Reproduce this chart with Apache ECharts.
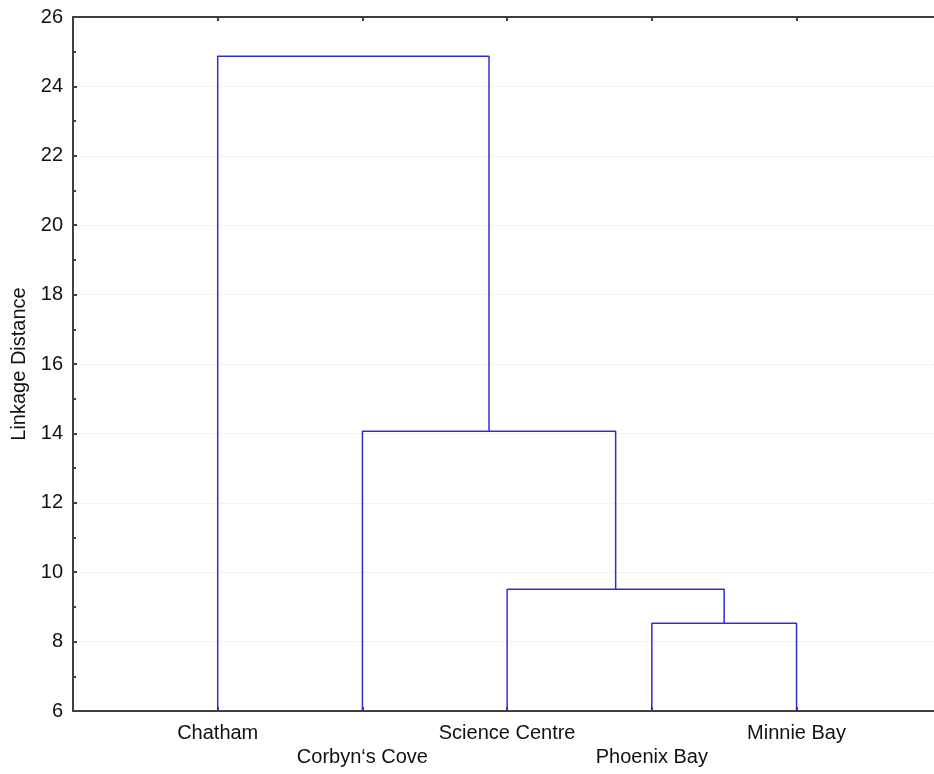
<!DOCTYPE html>
<html>
<head>
<meta charset="utf-8">
<script src="https://cdn.jsdelivr.net/npm/echarts@6/dist/echarts.min.js"></script>
<style>
html,body{margin:0;padding:0;background:#fff;}
#chart{width:934px;height:774px;}
</style>
</head>
<body>
<div id="chart"></div>
<script>
// Leaves (in dendrogram order)
const leaves = ['Chatham', 'Corbyn\u2018s Cove', 'Science Centre', 'Phoenix Bay', 'Minnie Bay'];
// Linkage: cluster ids 0..4 are leaves, new clusters get ids 5,6,7,8
const mergeLeft = [3, 2, 1, 0];
const mergeRight = [4, 5, 6, 7];
const mergeHeights = [8.53, 9.51, 14.06, 24.87];
// Y axis
const yMin = 6, yMax = 26, yStep = 2;

// Build node positions from linkage
const nodeX = leaves.map((_, i) => i + 1);
const nodeH = leaves.map(() => yMin);
const series = [];
for (let k = 0; k < mergeHeights.length; k++) {
  const a = mergeLeft[k], b = mergeRight[k], h = mergeHeights[k];
  const xa = nodeX[a], xb = nodeX[b];
  series.push({
    type: 'line',
    data: [[xa, nodeH[a]], [xa, h], [xb, h], [xb, nodeH[b]]],
    symbol: 'none',
    silent: true,
    lineStyle: { color: '#2e2ed6', width: 1.5 },
    xAxisIndex: 0, yAxisIndex: 0,
    z: 5
  });
  nodeX.push((xa + xb) / 2);
  nodeH.push(h);
}

const leafPos = leaves.map((_, i) => i + 1);
const xMax = 5.95;
const font = 'Liberation Sans, Arial, sans-serif';
const axisCol = '#404040';

const chart = echarts.init(document.getElementById('chart'), null, { renderer: 'canvas' });
chart.setOption({
  animation: false,
  backgroundColor: '#fff',
  grid: { left: 73, right: 0, top: 17, bottom: 63, containLabel: false },
  xAxis: [{
    type: 'value', position: 'bottom', min: 0, max: xMax,
    axisLine: { show: true, onZero: false, lineStyle: { color: axisCol, width: 2 } },
    axisTick: { show: true, inside: true, length: 4, customValues: leafPos, lineStyle: { color: axisCol, width: 2 } },
    axisLabel: {
      show: true, customValues: leafPos, margin: 10,
      color: '#111', fontSize: 20, fontFamily: font, lineHeight: 24,
      formatter: function (v) {
        const i = Math.round(v) - 1;
        if (i < 0 || i >= leaves.length) return '';
        return (i % 2 === 1 ? '\n' : '') + leaves[i];
      }
    },
    splitLine: { show: false }
  }, {
    type: 'value', position: 'top', min: 0, max: xMax,
    axisLine: { show: true, onZero: false, lineStyle: { color: axisCol, width: 2 } },
    axisTick: { show: true, inside: true, length: 4, customValues: leafPos, lineStyle: { color: axisCol, width: 2 } },
    axisLabel: { show: false },
    splitLine: { show: false }
  }],
  yAxis: {
    type: 'value', min: yMin, max: yMax, interval: yStep,
    name: 'Linkage Distance', nameLocation: 'middle', nameGap: 44, nameRotate: 90,
    nameTextStyle: { color: '#111', fontSize: 20, fontFamily: font },
    axisLine: { show: true, onZero: false, lineStyle: { color: axisCol, width: 2 } },
    axisTick: { show: true, inside: true, length: 4, lineStyle: { color: axisCol, width: 2 } },
    minorTick: { show: true, splitNumber: 2, length: 3, lineStyle: { color: axisCol, width: 2 } },
    axisLabel: { color: '#111', fontSize: 20, fontFamily: font, margin: 10 },
    splitLine: { show: true, lineStyle: { color: '#e8e8e8', type: 'dotted', width: 1 } }
  },
  series: series
});
</script>
</body>
</html>
